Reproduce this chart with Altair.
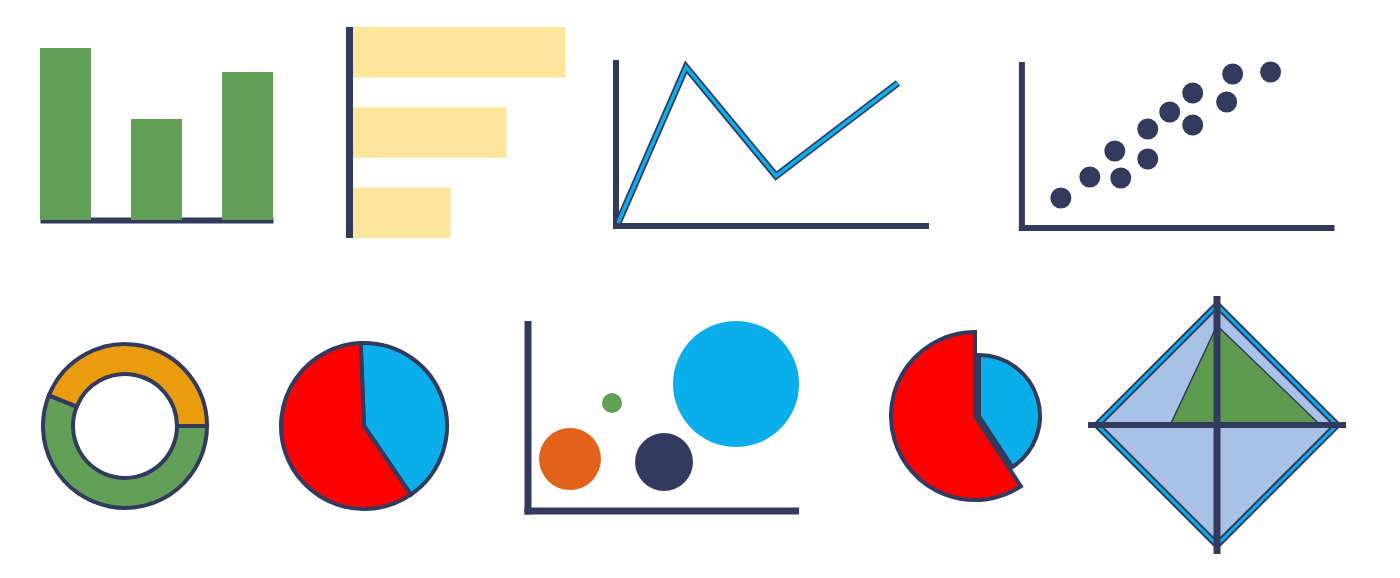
import numpy as np
import pandas as pd
import altair as alt

NAVY = "#323A5E"
GREEN = "#62A057"
YELLOW = "#FDE69B"
BLUE = "#0AAEEA"
RED = "#FE0000"
ORANGE = "#E89C0E"
PALE = "#A9C1E7"
RUST = "#E2621C"
DARKGREEN = "#5E9A4E"

# --- top row data ---
col_cats = ["A", "B", "C"]
col_vals = [8.6, 5.05, 7.4]

hbar_cats = ["A", "B", "C"]
hbar_vals = [10.8, 7.85, 5.05]

line_x = [0.1, 3.5, 8.0, 14.1]
line_y = [0.15, 7.95, 2.5, 7.15]

scatter_x = [1.95, 3.4, 4.65, 4.95, 6.3, 6.3, 7.4, 8.55, 8.55, 10.25, 10.55, 12.45]
scatter_y = [1.5, 2.55, 3.85, 2.5, 4.95, 3.45, 5.8, 6.75, 5.15, 6.3, 7.7, 7.8]

# --- bottom row data ---
donut_parts = ["green", "orange"]
donut_vals = [56.1, 43.9]

pie_parts = ["blue", "red"]
pie_vals = [41.1, 58.9]

bubble_names = ["rust", "green", "navy", "blue"]
bubble_x = [2.1, 4.2, 6.8, 10.4]
bubble_y = [2.6, 5.4, 2.45, 6.35]
bubble_size = [9.6, 1.0, 8.4, 39.7]

explode_parts = ["blue", "red"]
explode_vals = [40.8, 59.2]

radar_axes = ["top", "right", "bottom", "left"]
radar_outer = [1.0, 1.0, 1.0, 1.0]
radar_inner = [0.83, 0.86, 0.0, 0.39]

TAU = 2 * np.pi
one = pd.DataFrame({"o": [0]})


def qscale(lo, hi):
    return alt.Scale(domain=[lo, hi], nice=False, zero=False)


def axis_lines(xs, ys, xmax, ymax, width):
    base = alt.Chart(one).mark_rule(color=NAVY, strokeWidth=width, strokeCap="square")
    v = base.encode(x=alt.XDatum(0, scale=xs, axis=None),
                    y=alt.YDatum(0, scale=ys, axis=None), y2=alt.datum(ymax))
    h = base.encode(x=alt.XDatum(0, scale=xs, axis=None), x2=alt.datum(xmax),
                    y=alt.YDatum(0, scale=ys, axis=None))
    return v + h


# column chart
col_df = pd.DataFrame({"cat": col_cats, "v": col_vals})
columns = alt.Chart(col_df).mark_bar(color=GREEN).encode(
    x=alt.X("cat:N", scale=alt.Scale(paddingInner=0.44, paddingOuter=0),
            axis=alt.Axis(labels=False, ticks=False, title=None, grid=False,
                          domainColor=NAVY, domainWidth=6)),
    y=alt.Y("v:Q", scale=alt.Scale(domain=[0, 9.65], nice=False), axis=None),
).properties(width=233, height=193)

# horizontal bars
hx = qscale(-2.825, 12.025)
hbar_df = pd.DataFrame({"cat": hbar_cats, "v": hbar_vals})
hbars = alt.Chart(hbar_df).mark_bar(color=YELLOW).encode(
    x=alt.X("v:Q", scale=hx, axis=None),
    y=alt.Y("cat:N", scale=alt.Scale(paddingInner=0.37, paddingOuter=0), axis=None),
)
hrule = alt.Chart(one).mark_rule(color=NAVY, strokeWidth=7).encode(
    x=alt.XDatum(0, scale=hx, axis=None))
hpanel = alt.layer(hbars, hrule).properties(width=297, height=211)

# line chart
lx = qscale(-0.3, 15.95)
ly = qscale(-0.3, 9.95)
line_df = pd.DataFrame({"x": line_x, "y": line_y})
lbase = alt.Chart(line_df).encode(x=alt.X("x:Q", scale=lx, axis=None),
                                  y=alt.Y("y:Q", scale=ly, axis=None))
line_panel = alt.layer(
    axis_lines(lx, ly, 15.5, 8.15, 6),
    lbase.mark_line(color=NAVY, strokeWidth=7, strokeJoin="miter"),
    lbase.mark_line(color=BLUE, strokeWidth=3.5, strokeJoin="miter"),
).properties(width=325, height=205)

# scatter
sx = qscale(-3.35, 15.925)
sy = qscale(-0.3, 10.05)
sc_df = pd.DataFrame({"x": scatter_x, "y": scatter_y})
scatter = alt.layer(
    axis_lines(sx, sy, 15.5, 8.15, 6),
    alt.Chart(sc_df).mark_circle(size=441, color=NAVY, opacity=1).encode(
        x=alt.X("x:Q", scale=sx, axis=None), y=alt.Y("y:Q", scale=sy, axis=None)),
).properties(width=385, height=207)

# donut
donut_df = pd.DataFrame({"part": donut_parts, "v": donut_vals, "i": [0, 1]})
donut = alt.Chart(donut_df).mark_arc(outerRadius=82, innerRadius=52, stroke=NAVY, strokeWidth=4).encode(
    theta=alt.Theta("v:Q", stack=True, scale=alt.Scale(range=[np.pi / 2, np.pi / 2 + TAU])),
    color=alt.Color("part:N", scale=alt.Scale(domain=donut_parts, range=[GREEN, ORANGE]), legend=None),
    order=alt.Order("i:Q"),
).properties(width=170, height=260)

# pie
pie_df = pd.DataFrame({"part": pie_parts, "v": pie_vals, "i": [0, 1]})
pie = alt.Chart(pie_df).mark_arc(radius=83, stroke=NAVY, strokeWidth=4).encode(
    theta=alt.Theta("v:Q", stack=True, scale=alt.Scale(range=[-0.04, TAU - 0.04])),
    color=alt.Color("part:N", scale=alt.Scale(domain=pie_parts, range=[BLUE, RED]), legend=None),
    order=alt.Order("i:Q"),
).properties(width=268, height=260)

# bubbles
bx = qscale(-0.5, 16.7)
by = qscale(-0.25, 10.75)
bub_df = pd.DataFrame({"name": bubble_names, "x": bubble_x, "y": bubble_y, "s": bubble_size})
bubble = alt.layer(
    axis_lines(bx, by, 13.38, 9.33, 7),
    alt.Chart(bub_df).mark_circle(opacity=1).encode(
        x=alt.X("x:Q", scale=bx, axis=None),
        y=alt.Y("y:Q", scale=by, axis=None),
        size=alt.Size("s:Q", scale=alt.Scale(domain=[0, 40], range=[0, 16000]), legend=None),
        color=alt.Color("name:N", scale=alt.Scale(domain=bubble_names, range=[RUST, GREEN, NAVY, BLUE]),
                        legend=None),
    ),
).properties(width=344, height=220)

# exploded pie
exp_df = pd.DataFrame({"part": explode_parts, "v": explode_vals, "i": [0, 1]})
ts = alt.Scale(domain=[0, sum(explode_vals)], range=[0, TAU])
exp_base = alt.Chart(exp_df).transform_window(
    cum_end="sum(v)", sort=[alt.SortField("i")]
).transform_calculate(cum_start="datum.cum_end - datum.v")
red_arc = exp_base.transform_filter("datum.part == 'red'").mark_arc(
    radius=84, color=RED, stroke=NAVY, strokeWidth=4).encode(
    theta=alt.Theta("cum_start:Q", scale=ts), theta2="cum_end:Q")
blue_arc = exp_base.transform_filter("datum.part == 'blue'").mark_arc(
    radius=61, color=BLUE, stroke=NAVY, strokeWidth=4, xOffset=4).encode(
    theta=alt.Theta("cum_start:Q", scale=ts), theta2="cum_end:Q")
exploded = alt.layer(red_arc, blue_arc).properties(width=186, height=240)


# radar
def polygon(vals):
    d = dict(zip(radar_axes, vals))
    return pd.DataFrame({"x": [-d["left"], 0.0, d["right"]],
                         "lo": [0.0, -d["bottom"], 0.0],
                         "hi": [0.0, d["top"], 0.0]})


rs = qscale(-1.075, 1.075)


def poly_chart(vals):
    return alt.Chart(polygon(vals)).encode(
        x=alt.X("x:Q", scale=rs, axis=None),
        y=alt.Y("lo:Q", scale=rs, axis=None), y2="hi:Q")


radar = alt.layer(
    poly_chart(radar_outer).mark_area(color=PALE, stroke=NAVY, strokeWidth=7,
                                      strokeJoin="miter", orient="vertical"),
    poly_chart(radar_outer).mark_area(fillOpacity=0, stroke=BLUE, strokeWidth=3,
                                      strokeJoin="miter", orient="vertical"),
    poly_chart(radar_inner).mark_area(color=DARKGREEN, stroke=NAVY, strokeWidth=1.5,
                                      orient="vertical"),
    alt.Chart(one).mark_rule(color=NAVY, strokeWidth=7).encode(x=alt.XDatum(0, scale=rs, axis=None)),
    alt.Chart(one).mark_rule(color=NAVY, strokeWidth=6).encode(y=alt.YDatum(0, scale=rs, axis=None)),
).properties(width=258, height=258)

row1 = alt.hconcat(columns, hpanel, line_panel, scatter, spacing=20, bounds="flush")
row2 = alt.hconcat(donut, pie, bubble, exploded, radar, spacing=20, bounds="flush").resolve_scale(
    color="independent", theta="independent", size="independent")

chart = alt.vconcat(row1, row2, spacing=48).resolve_scale(
    color="independent", theta="independent", size="independent"
).properties(
    padding={"left": 27, "top": 15, "right": 5, "bottom": 5}
).configure_view(strokeWidth=0)

chart.save("out.html", embed_options={"renderer": "svg", "actions": False})
